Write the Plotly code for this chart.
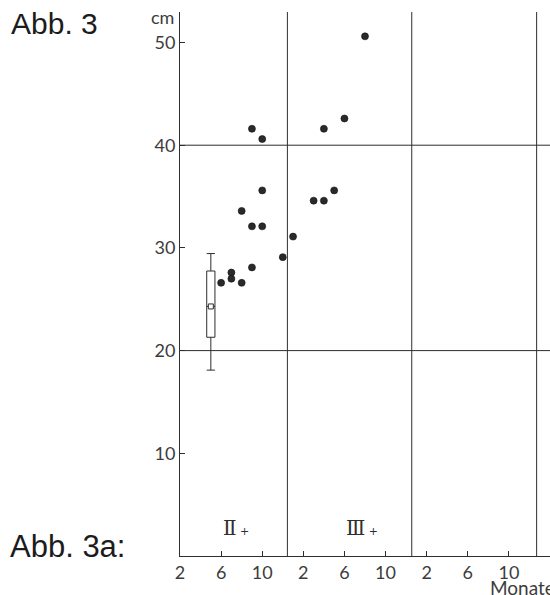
import plotly.graph_objects as go

# ---- data -------------------------------------------------------------
# age classes (each class spans 12 months on the x axis)
age_classes = ["Ⅱ", "Ⅲ", ""]
months_per_class = 12

# class II individuals: age within class (months) and body length (cm)
months_II = [6, 7, 7, 8, 8, 9, 9, 9, 10, 10, 10, 12]
cm_II = [26.6, 27.6, 27.0, 26.6, 33.6, 41.6, 32.1, 28.1, 40.6, 32.1, 35.6, 29.1]

# class III individuals
months_III = [1, 3, 4, 4, 5, 6, 8]
cm_III = [31.1, 34.6, 34.6, 41.6, 35.6, 42.6, 50.6]

# box summary (class II, month 5)
box_month = [5]
box_lower = [18.1]
box_q1 = [21.3]
box_median = [24.3]
box_q3 = [27.75]
box_upper = [29.45]

# tick labels
month_ticks = [2, 6, 10]
y_ticks = [10, 20, 30, 40, 50]

# ---- layout constants --------------------------------------------------
W, H = 550, 595
ML, MR, MT, MB = 180, 0, 12, 39
INK = "#2e2e2e"
TXT = "#3c3c3c"

x_tickvals = [m + k * months_per_class for k in range(3) for m in month_ticks]
x_ticktext = [str(m) for k in range(3) for m in month_ticks]

def to_axis(months, k):
    return [m + k * months_per_class for m in months]

fig = go.Figure()

fig.add_trace(go.Box(
    x=box_month, q1=box_q1, median=box_median, q3=box_q3,
    lowerfence=box_lower, upperfence=box_upper,
    width=0.8, whiskerwidth=1, fillcolor="white",
    line=dict(color=INK, width=1), boxpoints=False,
    hoverinfo="skip", showlegend=False,
))
fig.add_trace(go.Scatter(
    x=box_month, y=box_median, mode="markers",
    marker=dict(symbol="square", size=5, color="white",
                line=dict(color=INK, width=1)),
    showlegend=False, hoverinfo="skip",
))
for k, (mo, cm) in enumerate([(months_II, cm_II), (months_III, cm_III)]):
    fig.add_trace(go.Scatter(
        x=to_axis(mo, k), y=cm, mode="markers",
        marker=dict(size=7, color="#2a2a2a", line=dict(color="#111", width=0.6)),
        showlegend=False,
    ))

# class dividers and guide lines
for xd in [12.45, 24.55, 36.7]:
    fig.add_shape(type="line", xref="x", yref="paper", x0=xd, x1=xd, y0=0, y1=1,
                  line=dict(color=INK, width=1))
for yg in [20, 40]:
    fig.add_shape(type="line", xref="paper", yref="y", x0=0, x1=1, y0=yg, y1=yg,
                  line=dict(color=INK, width=1))

# class labels
for k, lab in enumerate(age_classes):
    if lab:
        fig.add_annotation(
            x=6.0 + k * months_per_class, y=2.7, xref="x", yref="y",
            text=lab + "<span style='font-size:11px'> +</span>",
            showarrow=False, xanchor="left", yanchor="middle",
            font=dict(family="DejaVu Serif", size=20, color=INK),
        )

plot_h = H - MT - MB
plot_w = W - ML - MR
def px_x(px):
    return (px - ML) / plot_w
def px_y(py):
    return (H - MB - py) / plot_h

fig.add_annotation(x=px_x(176), y=px_y(17), xref="paper", yref="paper",
                   text="cm", showarrow=False, xanchor="right", yanchor="middle",
                   font=dict(family="Lato", size=18, color=TXT))
fig.add_annotation(x=px_x(488), y=px_y(587), xref="paper", yref="paper",
                   text="Monate", showarrow=False, xanchor="left", yanchor="middle",
                   font=dict(family="Lato", size=19, color=TXT))
fig.add_annotation(x=px_x(9), y=px_y(23), xref="paper", yref="paper",
                   text="Abb. 3", showarrow=False, xanchor="left", yanchor="middle",
                   font=dict(family="Liberation Sans", size=30, color="#1c1c1c"))
fig.add_annotation(x=px_x(8), y=px_y(546), xref="paper", yref="paper",
                   text="Abb. 3a:", showarrow=False, xanchor="left", yanchor="middle",
                   font=dict(family="Liberation Sans", size=31, color="#1c1c1c"))

fig.update_layout(
    width=W, height=H,
    margin=dict(l=ML, r=MR, t=MT, b=MB, pad=0),
    paper_bgcolor="white", plot_bgcolor="white",
    showlegend=False,
    xaxis=dict(range=[2, 38], showgrid=False, zeroline=False, automargin=False,
               showline=True, linecolor=INK, linewidth=1,
               ticks="inside", ticklen=5, tickcolor=INK, tickwidth=1,
               tickvals=x_tickvals, ticktext=x_ticktext,
               tickfont=dict(family="Lato", size=18, color=TXT)),
    yaxis=dict(range=[0, (H - MB - MT) / 10.27], showgrid=False, zeroline=False,
               automargin=False,
               showline=True, linecolor=INK, linewidth=1,
               ticks="inside", ticklen=5, tickcolor=INK, tickwidth=1,
               tickvals=y_ticks,
               tickfont=dict(family="Lato", size=18, color=TXT)),
)

fig.write_html("out.html", config={"displayModeBar": False},
               post_script="document.body.style.margin='0px';")
